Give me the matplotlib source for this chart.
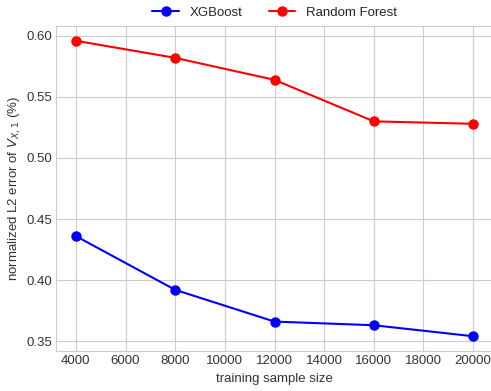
import numpy as np
import matplotlib
matplotlib.use("Agg")
import matplotlib.pyplot as plt
import seaborn as sns

# training sample sizes and normalized L2 errors
sample_sizes = [4000, 8000, 12000, 16000, 20000]
xgb_error = [0.436, 0.392, 0.366, 0.363, 0.354]
rf_error = [0.596, 0.582, 0.564, 0.530, 0.528]

sns.set_style("whitegrid")
plt.rcParams['font.family'] = ['Liberation Sans', 'DejaVu Sans']

fig = plt.figure(figsize=(4.91, 3.91), dpi=100)
ax = fig.add_axes([56/491, 40/391, 437/491, 325/391])

ax.plot(sample_sizes, xgb_error, 'o-', color='blue', lw=1.5, ms=6.5, label='XGBoost')
ax.plot(sample_sizes, rf_error, 'o-', color='red', lw=1.5, ms=6.5, label='Random Forest')

ax.set_xticks(np.arange(4000, 20001, 2000))
ax.set_yticks([0.35, 0.40, 0.45, 0.50, 0.55, 0.60])
ax.tick_params(labelsize=9.5, colors='#333333', length=0, pad=3)
ax.set_xlabel('training sample size', fontsize=9.5, color='#333333', labelpad=4)
ax.set_ylabel(r'normalized L2 error of $V_{X,1}$ (%)', fontsize=9.5, color='#333333', labelpad=2)

ax.legend(loc='lower center', bbox_to_anchor=(0.5, 0.985), ncol=2, frameon=False, fontsize=9.5)

fig.savefig('out.png', dpi=100)
